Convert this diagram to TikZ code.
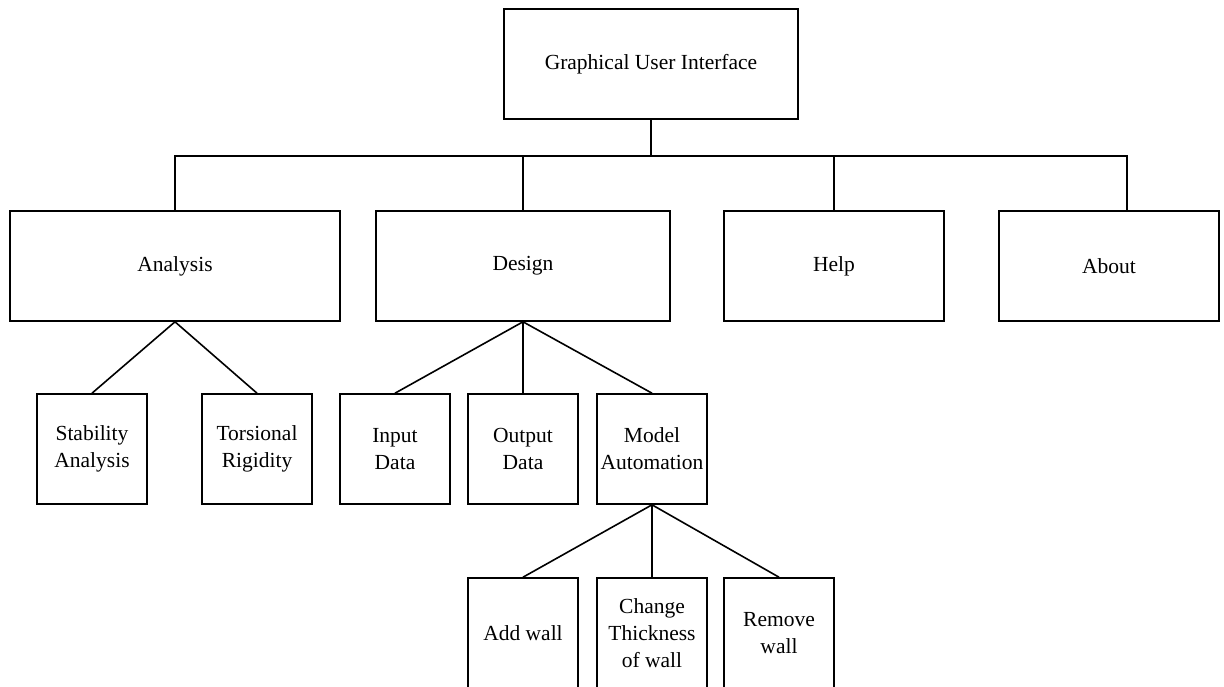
\documentclass[tikz,border=0pt]{standalone}
\usepackage{fontspec}
\setmainfont{Liberation Serif}
\begin{document}
\begin{tikzpicture}[x=1pt, y=-1pt, line width=1.6pt,
		box/.style = {draw, rectangle, align=center, inner sep=0pt, font=\fontsize{21.5}{27}\selectfont},
		menubox/.style = {box, minimum height=110pt},
		leafbox/.style = {box, minimum width=110pt, minimum height=110pt}]
		\useasboundingbox (0,0) rectangle (1224,686);
		% top level
		\node [box, minimum width=294pt, minimum height=110pt] (gui) at (651,64) {Graphical User Interface};
		% menus
		\node [menubox, minimum width=330pt] (analysis) at (175,266) {Analysis};
		\node [menubox, minimum width=294pt] (design) at (523,266) {Design};
		\node [menubox, minimum width=220pt] (help) at (834,266) {Help};
		\node [menubox, minimum width=220pt] (about) at (1109,266) {About};
		% sub menus
		\node [leafbox] (stability) at (92,449) {Stability\\Analysis};
		\node [leafbox] (torsion) at (257,449) {Torsional\\Rigidity};
		\node [leafbox] (input) at (395,449) {Input\\Data};
		\node [leafbox] (output) at (523,449) {Output\\Data};
		\node [leafbox] (model) at (652,449) {Model\\Automation};
		% model automation
		\node [leafbox] (addwall) at (523,633) {Add wall};
		\node [leafbox] (thick) at (652,633) {Change\\Thickness\\of wall};
		\node [leafbox] (remwall) at (779,633) {Remove\\wall};
		% connectors
		\coordinate (bus) at (651,156);
		\draw (gui.south) -- (bus);
		\draw (analysis.north) |- (bus) -| ([xshift=18pt]about.north);
		\draw (design.north) -- (design.north |- bus);
		\draw (help.north) -- (help.north |- bus);
		\draw (stability.north) -- (analysis.south) -- (torsion.north);
		\draw (input.north) -- (design.south) -- (model.north);
		\draw (design.south) -- (output.north);
		\draw (addwall.north) -- (model.south) -- (remwall.north);
		\draw (model.south) -- (thick.north);
\end{tikzpicture}
\end{document}
